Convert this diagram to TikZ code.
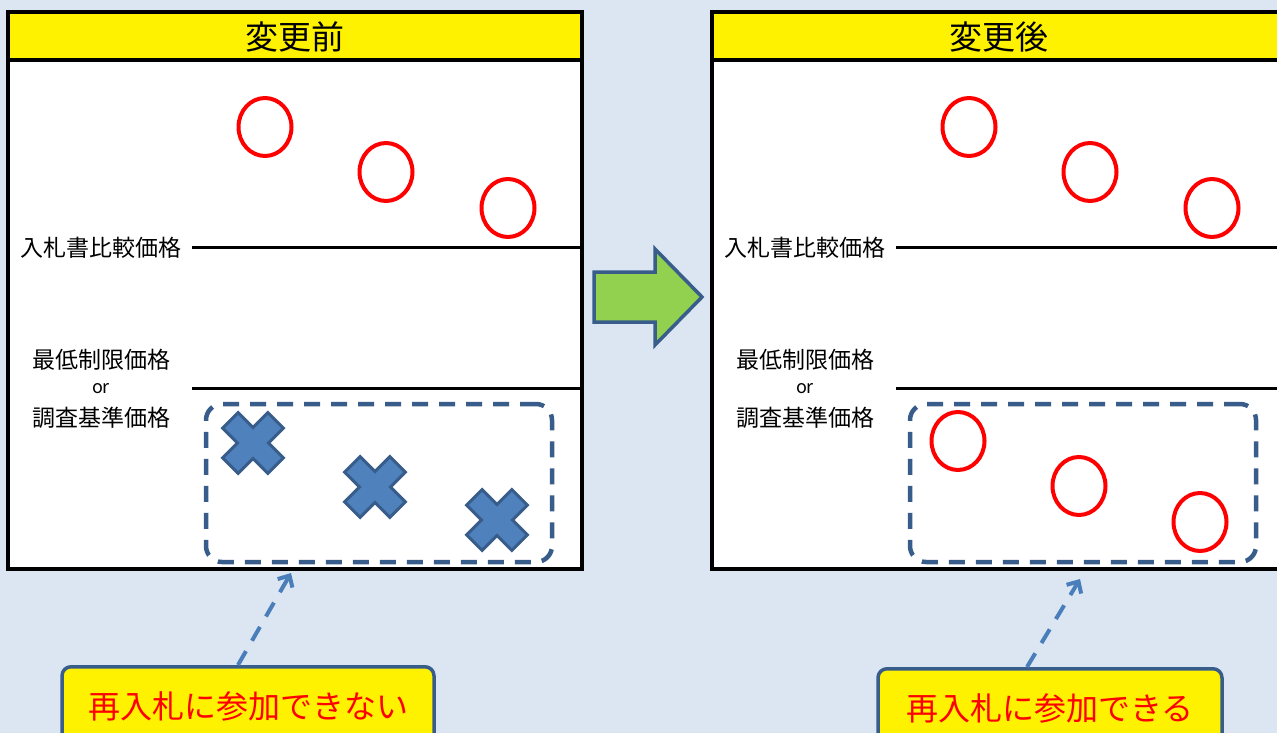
\documentclass[tikz,border=0pt]{standalone}
\usepackage{fontspec}
\setmainfont{Noto Sans CJK JP}
\usepackage{tikz}
\usetikzlibrary{shapes.geometric,arrows.meta}
\definecolor{bgblue}{HTML}{DCE6F2}
\definecolor{boxblue}{HTML}{385D8A}
\definecolor{crossblue}{HTML}{4F81BD}
\definecolor{pointblue}{HTML}{4A7EBB}
\definecolor{arrowgreen}{HTML}{92D050}
\tikzstyle{okmark}=[ellipse,draw=red,line width=4pt,minimum width=53pt,minimum height=58pt,inner sep=0pt]

\begin{document}
\begin{tikzpicture}[x=1pt,y=-1pt]
    \tikzstyle{okmark}=[ellipse,draw=red,line width=4pt,minimum width=53pt,minimum height=58pt,inner sep=0pt]
    \tikzstyle{pricelabel}=[font=\fontsize{23}{26}\selectfont,inner sep=0pt]
    \tikzstyle{pricelevel}=[line width=3pt]
    \tikzstyle{groupbox}=[draw=boxblue,line width=4.5pt,dash pattern=on 16pt off 11pt,rounded corners=16pt]
    \tikzstyle{callout}=[draw=boxblue,fill=yellow,line width=3.5pt,rounded corners=9pt,text=red,font=\fontsize{32}{36}\selectfont,minimum height=80pt,anchor=north]
    \tikzstyle{pointer}=[draw=pointblue,line width=4pt,dash pattern=on 16pt off 12pt,-{Straight Barb[length=9pt,width=17pt]}]
    \fill[bgblue] (0,0) rectangle (1277,733);
    \clip (0,0) rectangle (1277,733);
    % both panels
    \foreach \px/\title/\nm in {0/変更前/L,704/変更後/R}{
        \draw[line width=3.5pt,fill=white] (\px+8,12) rectangle (\px+582,569);
        \draw[line width=3.5pt,fill=yellow] (\px+8,12) rectangle (\px+582,60);
        \node[font=\fontsize{33}{36}\selectfont] (head\nm) at (\px+295,37) {\title};
        \node[pricelabel] (cmp\nm) at (\px+101,248) {入札書比較価格};
        \node[pricelabel] (min\nm) at (\px+101,360) {最低制限価格};
        \node[pricelabel,font=\fontsize{18}{20}\selectfont] (or\nm) at (\px+101,389) {or};
        \node[pricelabel] (inv\nm) at (\px+101,418) {調査基準価格};
        \draw[pricelevel] (\px+192,247) -- (\px+582,247);
        \draw[pricelevel] (\px+192,388) -- (\px+582,388);
        \foreach \cx/\cy/\k in {265/127/1,386/172/2,508/208/3}
            \node[okmark] (up\nm\k) at (\px+\cx,\cy) {};
        \node[groupbox,minimum width=346pt,minimum height=158pt] (group\nm) at (\px+379,483) {};
    }
    % lower bids: out before, in after
    \foreach \cx/\cy in {253/443,375/487,497/520}{
        \begin{scope}[shift={(\cx,\cy)},rotate=45]
            \draw[fill=crossblue,draw=boxblue,line width=3pt] (-11,-32) -- (11,-32) -- (11,-11) -- (32,-11) -- (32,11) -- (11,11) -- (11,32) -- (-11,32) -- (-11,11) -- (-32,11) -- (-32,-11) -- (-11,-11) -- cycle;
        \end{scope}
    }
    \foreach \cx/\cy/\k in {958/441/1,1079/486/2,1200/522/3}
        \node[okmark] (low\k) at (\cx,\cy) {};
    % change arrow
    \draw[fill=arrowgreen,draw=boxblue,line width=3.5pt] (594,272) -- (655,272) -- (655,249) -- (702,297) -- (655,345) -- (655,322) -- (594,322) -- cycle;
    % callouts
    \node[callout,minimum width=372pt] (callL) at (248,665) {再入札に参加できない};
    \node[callout,minimum width=344pt] (callR) at (1050,667) {再入札に参加できる};
    \coordinate (tipL) at (291,573);
    \coordinate (tipR) at (1080,579);
    \draw[pointer] ([xshift=-10pt]callL.north) -- (tipL);
    \draw[pointer] ([xshift=-23pt]callR.north) -- (tipR);
\end{tikzpicture}
\end{document}
